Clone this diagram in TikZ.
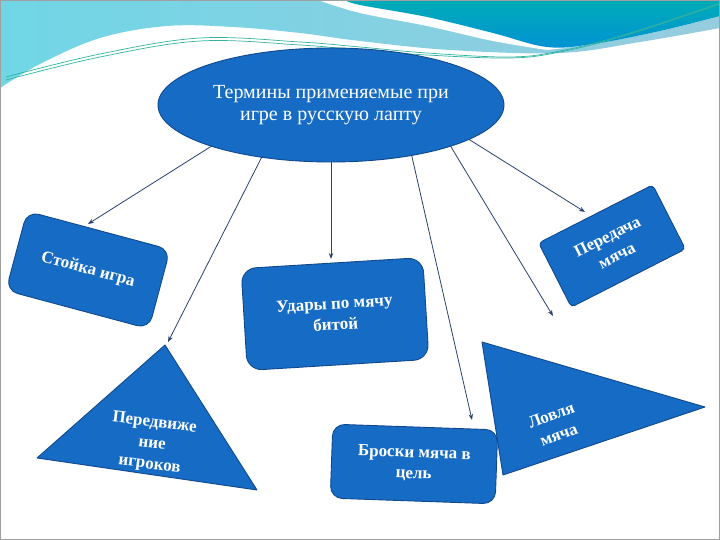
\documentclass[tikz,border=0pt]{standalone}
\usepackage{fontspec}
\setmainfont{Liberation Serif}
\usetikzlibrary{arrows.meta,shapes.geometric}
\definecolor{shapeblue}{RGB}{22,108,196}
\definecolor{shapeedge}{RGB}{16,72,140}
\definecolor{arrowcol}{RGB}{40,66,112}
\definecolor{lbL}{RGB}{112,214,230}
\definecolor{lbR}{RGB}{150,204,222}
\definecolor{tealtop}{RGB}{0,172,182}
\definecolor{tealbot}{RGB}{0,146,212}
\definecolor{wline}{RGB}{50,178,160}
\begin{document}
\begin{tikzpicture}[x=1pt,y=-1pt,
  shapebox/.style={draw=shapeedge, line width=0.9pt, fill=shapeblue, text=white,
    font=\bfseries\fontsize{17}{21}\selectfont, align=center, inner sep=0pt, outer sep=0pt},
  shapetext/.style={text=white, font=\bfseries\fontsize{17}{21}\selectfont, align=center, inner sep=0pt},
  tri/.style={draw=shapeedge, line width=0.9pt, fill=shapeblue, line join=round},
  conn/.style={draw=arrowcol, line width=0.8pt, -{Stealth[length=6pt,width=4.5pt]}},
  wave/.style={draw=wline, line width=0.7pt}]
\useasboundingbox (0,0) rectangle (720,540);
% background waves
\shade[left color=lbL, right color=lbR] (0,0) -- (720,0) -- (720,28) -- plot[smooth, tension=0.6] coordinates {(720,28) (640,42) (560,53) (450,50) (360,41) (300,33) (233,27) (167,26) (100,38) (40,64) (0,88)} -- cycle;
\fill[white] (318,0) -- plot[smooth, tension=0.6] coordinates {(318,0) (360,13) (427,26) (493,41) (547,50)} -- plot[smooth, tension=0.6] coordinates {(547,50) (593,44) (660,31) (720,16)} -- (720,0) -- cycle;
\shade[top color=tealtop, bottom color=tealbot] (345,0) -- plot[smooth, tension=0.6] coordinates {(345,0) (360,5) (427,17) (493,33) (547,47) (593,44) (660,31) (720,16)} -- (720,0) -- cycle;
\draw[wave] plot[smooth, tension=0.6] coordinates {(6,77) (100,54) (200,38) (300,42) (360,47) (427,53) (510,57) (560,51) (627,34) (720,3)};
\draw[wave] plot[smooth, tension=0.6] coordinates {(6,80) (100,57) (200,41) (300,45) (360,50) (427,55) (510,58) (560,52) (627,35) (720,4)};
% frame
\draw[gray!75, line width=1.2pt] (0.6,0.6) rectangle (719.4,539.4);

% central ellipse
\node[ellipse, draw=shapeedge, line width=0.9pt, fill=shapeblue, text=white, minimum width=346pt, minimum height=114pt,
  inner sep=0pt, outer sep=0pt, align=center, font=\fontsize{20}{22}\selectfont] (e) at (331,105)
  {Термины применяемые при\\игре в русскую лапту};

% shapes
\node[shapebox, rounded corners=12pt, minimum width=148pt, minimum height=82pt, rotate=-15] (st) at (88,270) {Стойка игра};
\node[shapebox, rounded corners=4pt, minimum width=128pt, minimum height=72pt, rotate=27] (pm) at (612,246) {Передача\\мяча};
\node[shapebox, rounded corners=15pt, minimum width=182pt, minimum height=102pt, rotate=3.5] (ud) at (335,314) {Удары по мячу\\битой};
\node[shapebox, rounded corners=12pt, minimum width=165pt, minimum height=74pt, rotate=-2] (br) at (414,464) {Броски мяча в\\цель};
\path[tri] (165,345) -- (257,490) -- (37,458) -- cycle;
\node[shapetext, rotate=-7] (pd) at (152,444) {Передвиже\\ние\\игроков};
\path[tri] (482,342) -- (705,407) -- (503,475) -- cycle;
\node[shapetext, rotate=21] (lm) at (555,425) {Ловля\\мяча};

% arrow ends
\coordinate (t1) at (88,224);
\coordinate (t2) at (168,342);
\coordinate (t3) at (331,259);
\coordinate (t4) at (472,420);
\coordinate (t5) at (553,316);
\coordinate (t6) at (585,212);

\draw[conn] (e.199) -- (t1);
\draw[conn] (e.217.5) -- (t2);
\draw[conn] (e.270) -- (t3);
\draw[conn] (e.328.4) -- (t4);
\draw[conn] (e.341.3) -- (t5);
\draw[conn] (e.346.1) -- (t6);
\end{tikzpicture}
\end{document}
